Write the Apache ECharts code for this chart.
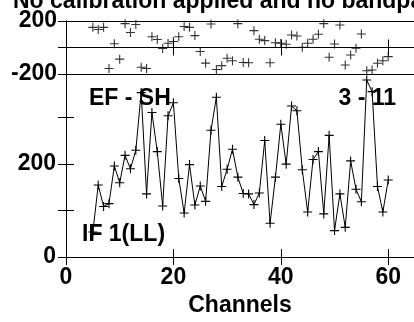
<!DOCTYPE html>
<html>
<head>
<meta charset="utf-8">
<script src="https://cdn.jsdelivr.net/npm/echarts@6/dist/echarts.min.js"></script>
<style>html,body{margin:0;padding:0;background:#fff;}#c{width:414px;height:322px;}</style>
</head>
<body>
<div id="c"></div>
<script>
var channels = [5,6,7,8,9,10,11,12,13,14,15,16,17,18,19,20,21,22,23,24,25,26,27,28,29,30,31,32,33,34,35,36,37,38,39,40,41,42,43,44,45,46,47,48,49,50,51,52,53,54,55,56,57,58,59,60];
var amplitude = [54,155,109,115,196,160,219,190,230,354,136,311,227,110,304,332,169,95,199,112,153,120,273,344,152,189,232,172,137,136,113,138,251,73,172,286,200,325,315,188,97,210,227,93,262,57,136,64,207,146,119,381,356,152,97,166];
var phase = [152,136,152,-158,28,-88,180,113,174,-149,-158,81,60,-8,32,45,81,158,152,90,-30,-118,177,-166,-137,-81,-100,180,-113,-115,127,62,52,-115,36,32,24,94,87,2,32,62,100,180,-74,26,170,-132,-57,-6,102,-175,-170,-119,-100,-69];
var xTickLabels = ['0','20','40','60'];
var ampTickLabels = ['0','200'];
var phaseTickLabels = ['-200','200'];
var titleText = 'No calibration applied and no bandpass';
var baselineText = 'EF - SH';
var timeText = '3 - 11';
var ifText = 'IF 1(LL)';
var xAxisName = 'Channels';

var FONT = 'Liberation Sans';
var FS = 23;
var plus = 'path://M0,5L10,5M5,0L5,10';
function pairs(xs, ys){ return xs.map(function(x,i){ return [x, ys[i]]; }); }

var axisLineS = {show:true, lineStyle:{color:'#000', width:1}};
var tickS = {show:true, inside:true, length:8, lineStyle:{color:'#000', width:1}};
var lab = {fontFamily:FONT, fontWeight:'bold', fontSize:FS, color:'#000'};

function xAx(grid, pos, showLabel){
  var a = {type:'value', gridIndex:grid, position:pos, min:0, max:64.8, interval:20,
    axisLine:axisLineS, axisTick:tickS, splitLine:{show:false},
    axisLabel:Object.assign({show:showLabel, margin:9, showMaxLabel:false,
      formatter:function(v){ return xTickLabels.indexOf(String(v))>=0 ? String(v) : ''; }}, lab)};
  if (showLabel){ a.name = xAxisName; a.nameLocation='middle'; a.nameGap=30; a.nameTextStyle=Object.assign({}, lab); }
  return a;
}
var option = {
  animation:false,
  backgroundColor:'#fff',
  grid:[
    {left:66, top:21, width:352, height:53},
    {left:66, top:74, width:352, height:191}
  ],
  xAxis:[ xAx(0,'bottom',false), xAx(0,'top',false), xAx(1,'bottom',true), xAx(1,'top',false) ],
  yAxis:[
    {type:'value', gridIndex:0, position:'left', min:-200, max:200, interval:200,
      axisLine:axisLineS, axisTick:tickS, splitLine:{show:true, lineStyle:{color:'#000', width:1}},
      axisLabel:Object.assign({margin:9, formatter:function(v){ return phaseTickLabels.indexOf(String(v))>=0?String(v):''; }}, lab)},
    {type:'value', gridIndex:0, position:'right', min:-200, max:200, interval:200,
      axisLine:axisLineS, axisTick:tickS, splitLine:{show:false}, axisLabel:{show:false}},
    {type:'value', gridIndex:1, position:'left', min:0, max:394, interval:100,
      axisLine:axisLineS, axisTick:tickS, splitLine:{show:false},
      axisLabel:Object.assign({margin:10, showMaxLabel:false, formatter:function(v){ return ampTickLabels.indexOf(String(v))>=0?String(v):''; }}, lab)},
    {type:'value', gridIndex:1, position:'right', min:0, max:394, interval:100,
      axisLine:axisLineS, axisTick:tickS, splitLine:{show:false}, axisLabel:{show:false}}
  ],
  series:[
    {type:'scatter', xAxisIndex:0, yAxisIndex:0, data:pairs(channels, phase),
      symbol:plus, symbolSize:9, itemStyle:{color:'rgba(0,0,0,0)', borderColor:'#000', borderWidth:1.1}},
    {type:'line', xAxisIndex:2, yAxisIndex:2, data:pairs(channels, amplitude),
      symbol:plus, symbolSize:9, showAllSymbol:true,
      lineStyle:{color:'#000', width:1}, itemStyle:{color:'rgba(0,0,0,0)', borderColor:'#000', borderWidth:1.1}}
  ],
  graphic:[
    {type:'text', x:13, y:1.5, style:{text:titleText, font:'bold 23px "Liberation Sans"', fill:'#000', textAlign:'left', textVerticalAlign:'middle'}},
    {type:'text', x:89, y:99, style:{text:baselineText, font:'bold 23px "Liberation Sans"', fill:'#000', textAlign:'left', textVerticalAlign:'middle'}},
    {type:'text', x:396, y:99, style:{text:timeText, font:'bold 23px "Liberation Sans"', fill:'#000', textAlign:'right', textVerticalAlign:'middle'}},
    {type:'text', x:82, y:235, style:{text:ifText, font:'bold 23px "Liberation Sans"', fill:'#000', textAlign:'left', textVerticalAlign:'middle'}}
  ]
};
echarts.init(document.getElementById('c'), null, {renderer:'canvas'}).setOption(option);
</script>
</body>
</html>
